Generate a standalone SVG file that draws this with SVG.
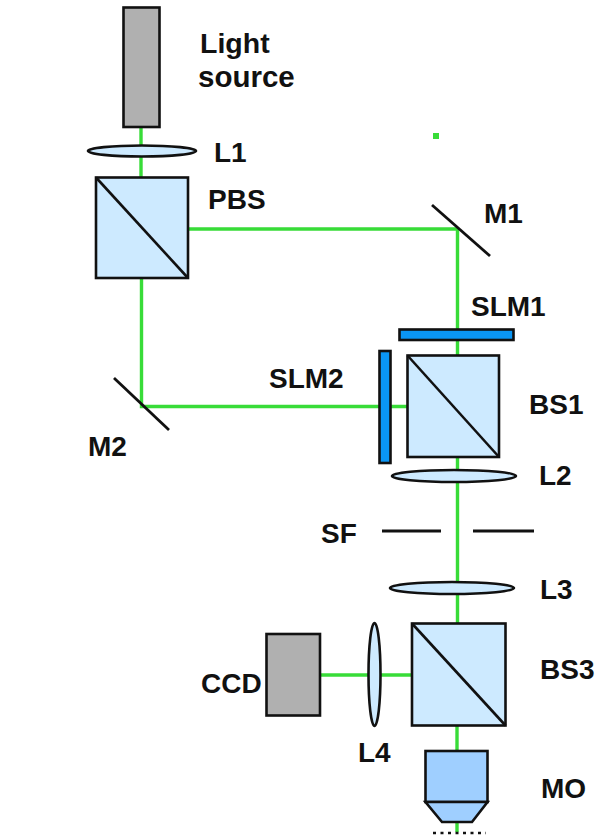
<svg xmlns="http://www.w3.org/2000/svg" width="603" height="836" viewBox="0 0 603 836">
<style>
.b{fill:none;stroke:#38dc38;stroke-width:3.4}
.k{stroke:#111;stroke-width:2.6}
.m{fill:none;stroke:#111;stroke-width:2.8}
.c{fill:#cdeaff}
.g{fill:#b0b0b0}
.s{fill:#0a96f5}
.o{fill:#9fcfff}
text{font-family:"Liberation Sans",Arial,sans-serif;font-weight:bold;font-size:28px;fill:#111}
</style>
<rect width="603" height="836" fill="#fff"/>
<g id="connectors">
<path class="b" d="M141 127V177"/>
<path class="b" d="M188 229H457.500V355"/>
<path class="b" d="M141.500 278V406.500H407"/>
<path class="b" d="M457.500 457V623"/>
<path class="b" d="M320 675H412"/>
<path class="b" d="M457 725V751"/>
<path class="b" d="M457 822V832"/>
</g>
<g id="light-source"><rect class="g k" x="123.500" y="7.500" width="36" height="119.500"/><text x="200" y="53" style="font-size:28.500px">Light</text><text x="198" y="87" style="font-size:29.500px">source</text></g>
<g id="L1"><ellipse class="c k" cx="142" cy="151" rx="54" ry="5.500"/><text x="214" y="162">L1</text></g>
<g id="PBS"><rect class="c k" x="96" y="177.500" width="92" height="100.500"/><path class="k" d="M96 177.500L188 278"/><text x="208" y="209">PBS</text></g>
<g id="M1"><path class="m" d="M432 205L490 256"/><text x="484" y="223">M1</text></g>
<g id="SLM1"><rect class="s k" x="399.500" y="329.500" width="114" height="10.500"/><text x="471" y="316">SLM1</text></g>
<g id="M2"><path class="m" d="M114 378L169 430"/><text x="88" y="456">M2</text></g>
<g id="SLM2"><rect class="s k" x="379.500" y="351" width="11" height="112"/><text x="269" y="388">SLM2</text></g>
<g id="BS1"><rect class="c k" x="407.500" y="355.500" width="91.500" height="101.500"/><path class="k" d="M407.500 355.500L499 457"/><text x="529" y="414">BS1</text></g>
<g id="L2"><ellipse class="c k" cx="454" cy="476" rx="62" ry="6"/><text x="539" y="485">L2</text></g>
<g id="SF"><path class="m" d="M382 531H441M473 531H534"/><text x="321" y="543">SF</text></g>
<g id="L3"><ellipse class="c k" cx="452" cy="588" rx="62" ry="6"/><text x="540" y="599">L3</text></g>
<g id="BS3"><rect class="c k" x="412" y="623.500" width="93.500" height="102"/><path class="k" d="M412 623.500L505.500 725.500"/><text x="540" y="679">BS3</text></g>
<g id="CCD"><rect class="g k" x="266.500" y="634" width="53.500" height="81.500"/><text x="201" y="693">CCD</text></g>
<g id="L4"><ellipse class="c k" cx="374.500" cy="674.500" rx="6" ry="51.500"/><text x="358" y="762">L4</text></g>
<g id="MO"><rect class="o k" x="425.500" y="751" width="62" height="51"/><path class="o k" d="M425.500 802H487.500L472 822H442Z"/><path d="M433 833H486" fill="none" stroke="#111" stroke-width="2.500" stroke-dasharray="3 4.500"/><text x="541" y="798">MO</text></g>
<rect id="dot" x="433" y="133" width="6" height="6" fill="#38dc38"/>
</svg>
